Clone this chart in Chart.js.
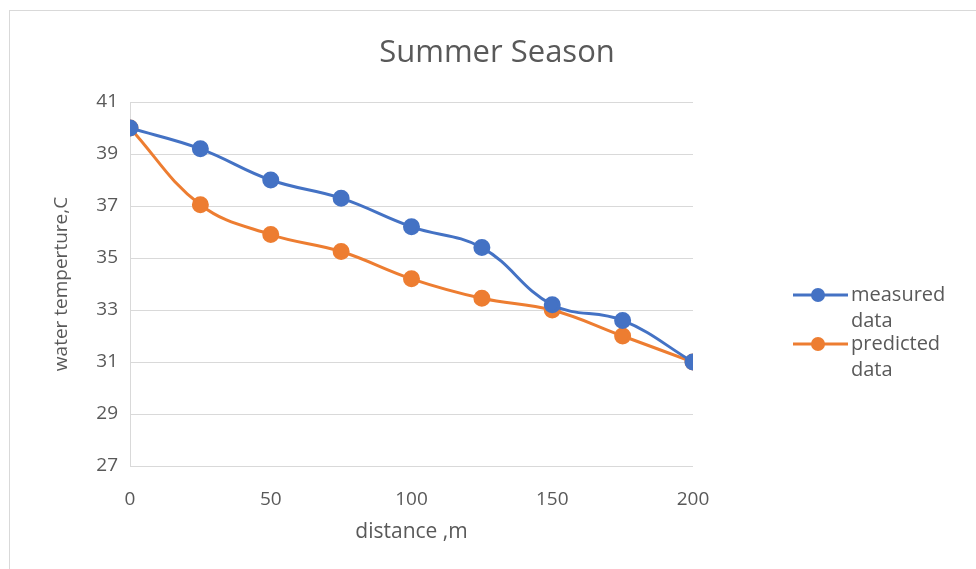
<!DOCTYPE html>
<html lang="en">
  <head>
    <meta charset="UTF-8" />
    <title>Summer Season</title>
  </head>
  <style>
    * {
      margin: 0;
      padding: 0;
    }
    body {
      background: white;
    }
    .chartBox {
      width: 976px;
      height: 569px;
    }
  </style>
  <body>
    <div class="chartBox">
      <canvas id="myChart" width="976" height="569"></canvas>
    </div>

    <script src="https://cdn.jsdelivr.net/npm/chart.js"></script>

    <script>
      // data block
      const distance = [0, 25, 50, 75, 100, 125, 150, 175, 200];
      const measured = [40, 39.2, 38, 37.3, 36.2, 35.4, 33.2, 32.6, 31];
      const predicted = [40, 37.05, 35.9, 35.25, 34.2, 33.45, 33, 32, 31];
      const seriesNames = ["measured data", "predicted data"];
      const chartTitle = "Summer Season";

      const fontFamily = "'Open Sans', sans-serif";
      const textColor = "#595959";
      const gridColor = "#d9d9d9";

      const toPoints = (ys) => distance.map((x, i) => ({ x, y: ys[i] }));

      const data = {
        datasets: [
          {
            label: seriesNames[0],
            data: toPoints(measured),
            borderColor: "#4472c4",
            backgroundColor: "#4472c4",
            borderWidth: 3,
            pointRadius: 7,
            pointHoverRadius: 7,
            tension: 0.4
          },
          {
            label: seriesNames[1],
            data: toPoints(predicted),
            borderColor: "#ed7d31",
            backgroundColor: "#ed7d31",
            borderWidth: 3,
            pointRadius: 7,
            pointHoverRadius: 7,
            tension: 0.4
          }
        ]
      };

      // frame, title over the whole canvas, wrapped legend on the right
      const chartExtras = {
        id: "chartExtras",
        beforeDraw: (chart) => {
          const { ctx } = chart;
          ctx.save();
          ctx.strokeStyle = gridColor;
          ctx.lineWidth = 1;
          ctx.strokeRect(9.5, 10.5, 1200, 1200);
          ctx.restore();
        },
        afterDraw: (chart) => {
          const { ctx } = chart;
          ctx.save();
          ctx.fillStyle = textColor;
          ctx.font = "31px " + fontFamily;
          ctx.textAlign = "center";
          ctx.textBaseline = "middle";
          ctx.fillText(chartTitle, 497, 53);

          const rows = [295, 344];
          chart.data.datasets.forEach((ds, i) => {
            const y = rows[i];
            ctx.strokeStyle = ds.borderColor;
            ctx.fillStyle = ds.borderColor;
            ctx.lineWidth = 3;
            ctx.beginPath();
            ctx.moveTo(793, y);
            ctx.lineTo(848, y);
            ctx.stroke();
            ctx.beginPath();
            ctx.arc(818, y, 7, 0, Math.PI * 2);
            ctx.fill();

            ctx.fillStyle = textColor;
            ctx.font = "20px " + fontFamily;
            ctx.textBaseline = "middle";
            ctx.textAlign = "left";
            const words = ds.label.split(" ");
            ctx.fillText(words[0], 851, y);
            ctx.fillText(words.slice(1).join(" "), 851, y + 26);
          });
          ctx.restore();
        }
      };

      // config block
      const config = {
        type: "line",
        data,
        options: {
          responsive: false,
          animation: false,
          layout: {
            padding: { left: 0, right: 283, top: 102, bottom: 0 }
          },
          plugins: {
            legend: { display: false },
            tooltip: { enabled: false },
            title: { display: false }
          },
          scales: {
            x: {
              type: "linear",
              min: 0,
              max: 200,
              afterFit: (scale) => {
                scale.height = 103;
              },
              ticks: {
                stepSize: 50,
                padding: 14,
                color: textColor,
                font: { family: fontFamily, size: 19 }
              },
              grid: { display: false },
              border: { display: false },
              title: {
                display: true,
                text: "distance ,m",
                color: textColor,
                font: { family: fontFamily, size: 21 },
                padding: { top: 0, bottom: 24 }
              }
            },
            y: {
              min: 27,
              max: 41,
              afterFit: (scale) => {
                scale.width = 130;
              },
              ticks: {
                stepSize: 2,
                padding: 12,
                color: textColor,
                font: { family: fontFamily, size: 19 }
              },
              grid: { color: gridColor, lineWidth: 1, drawTicks: false },
              border: { display: true, color: gridColor, width: 1 },
              title: {
                display: true,
                text: "water temperture,C",
                color: textColor,
                font: { family: fontFamily, size: 19 },
                padding: { top: 50, bottom: 0 }
              }
            }
          }
        },
        plugins: [chartExtras]
      };

      // init render block
      const myChart = new Chart(document.getElementById("myChart"), config);
    </script>
  </body>
</html>
